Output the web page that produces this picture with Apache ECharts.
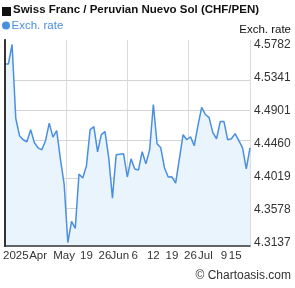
<!DOCTYPE html>
<html><head><meta charset="utf-8">
<script src="https://cdn.jsdelivr.net/npm/echarts@6/dist/echarts.min.js"></script>
<style>html,body{margin:0;padding:0;background:#fff}#c{width:295px;height:288px}</style>
</head><body><div id="c"></div>
<script>
const rates = [4.5520,4.5520,4.5782,4.4793,4.4564,4.4510,4.4483,4.4645,4.4470,4.4402,
4.4375,4.4497,4.4732,4.4544,4.4631,4.4254,4.3918,4.3137,4.3420,4.3326,
4.4052,4.3999,4.4160,4.4645,4.4685,4.4349,4.4577,4.4618,4.4268,4.3729,
4.4308,4.4315,4.4322,4.4012,4.4254,4.4120,4.4106,4.4349,4.4187,4.4375,
4.4981,4.4456,4.4402,4.4133,4.4012,4.4015,4.3931,4.4254,4.4577,4.4510,
4.4550,4.4429,4.4698,4.4941,4.4847,4.4806,4.4604,4.4523,4.4752,4.4752,
4.4510,4.4523,4.4591,4.4497,4.4402,4.4120,4.4402];
const tickLabels = ['2025','Apr','May','19','26','Jun','6','12','19','26','Jul','9','15'];
const tickIdx = [3,9,16,22,27,31,35,40,45,50,54,59,62];
const yTicks = [4.3137,4.3578,4.4019,4.4460,4.4901,4.5341,4.5782];
const yMin = 4.30902, yMax = 4.58421;

const categories = rates.map((_, i) => {
  const k = tickIdx.indexOf(i);
  return k >= 0 ? tickLabels[k] : '';
});
const gridValues = yTicks.slice(1, -1);
const FONT = 'Liberation Sans, Arial, sans-serif';
const GRID = '#dcdcdc';
const chart = echarts.init(document.getElementById('c'), null, {renderer:'canvas'});
chart.setOption({
  animation: false,
  grid: {left: 1, right: 45, top: 40, bottom: 42},
  xAxis: [{
    type: 'category', data: categories, boundaryGap: false, z: 10,
    axisLine: {show: true, lineStyle: {color: '#333', width: 1.5}},
    axisTick: {show: false},
    splitLine: {show: false},
    axisLabel: {interval: (i) => tickIdx.includes(i), color: '#333', fontSize: 11.5, fontFamily: FONT, margin: 4, hideOverlap: false}
  },{
    type: 'value', min: 0, max: 4, interval: 1, position: 'top',
    axisLine: {show: false}, axisTick: {show: false}, axisLabel: {show: false},
    splitLine: {show: true, lineStyle: {color: GRID, width: 1}}
  }],
  yAxis: [{
    type: 'value', position: 'right', min: yMin, max: yMax, z: 10,
    axisLine: {show: true, lineStyle: {color: '#333', width: 1.5}},
    axisTick: {show: false, customValues: yTicks},
    axisLabel: {customValues: yTicks, color: '#333', fontSize: 12, fontFamily: FONT, margin: 4, formatter: v => v.toFixed(4)},
    splitLine: {show: false}
  },{
    type: 'value', position: 'left', min: yMin, max: yMax, z: 10,
    axisLine: {show: true, lineStyle: {color: '#333', width: 2}},
    axisTick: {show: false}, axisLabel: {show: false}, splitLine: {show: false}
  }],
  series: [{
    type: 'line', data: rates, xAxisIndex: 0, yAxisIndex: 0, z: 2,
    symbol: 'none', smooth: false,
    lineStyle: {color: '#4a8fe0', width: 1.5},
    areaStyle: {color: '#eaf4fd', origin: 'start', opacity: 1},
    markLine: {
      silent: true, symbol: 'none', z: 1,
      label: {show: false},
      lineStyle: {color: '#d4d4d4', width: 1, type: 'solid'},
      data: gridValues.map(v => ({yAxis: v}))
    }
  }],
  graphic: [
    {type: 'rect', shape: {x: 2, y: 7, width: 9, height: 9}, style: {fill: '#111'}},
    {type: 'text', x: 13, y: 4, style: {text: 'Swiss Franc / Peruvian Nuevo Sol (CHF/PEN)', font: 'bold 11.5px ' + FONT, fill: '#111'}},
    {type: 'circle', shape: {cx: 6, cy: 25.5, r: 4}, style: {fill: '#4a8fe0'}},
    {type: 'text', x: 11.5, y: 20, style: {text: 'Exch. rate', font: '11.5px ' + FONT, fill: '#4a8fe0'}},
    {type: 'text', x: 291, y: 24, style: {text: 'Exch. rate', font: '11.5px ' + FONT, fill: '#111', align: 'right'}},
    {type: 'text', x: 291, y: 270, style: {text: '© Chartoasis.com', font: '12px ' + FONT, fill: '#333', align: 'right'}}
  ]
});
</script></body></html>
